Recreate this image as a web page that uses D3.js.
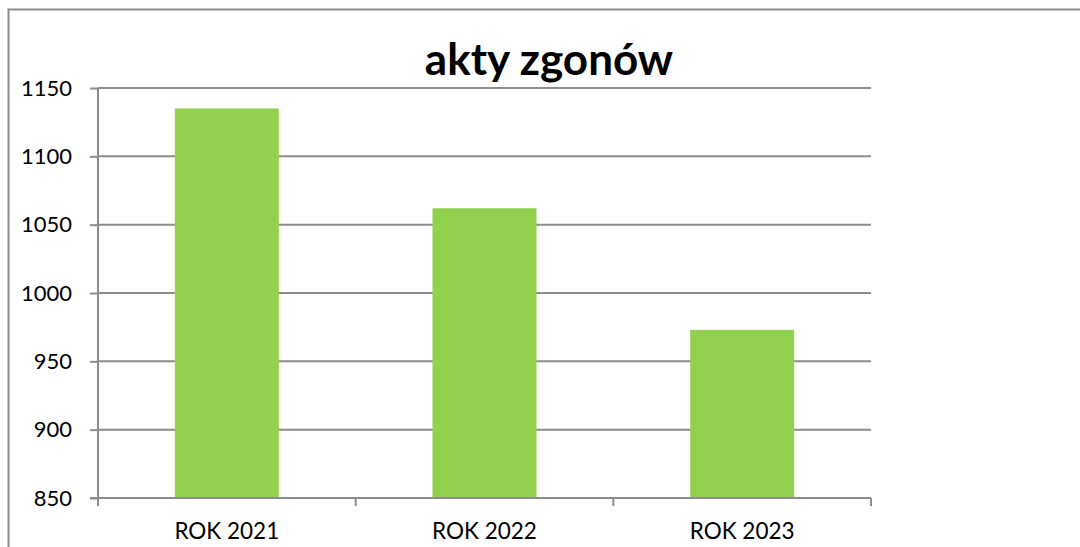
<!DOCTYPE html>
<html>
<head>
<meta charset="utf-8">
<script src="https://cdn.jsdelivr.net/npm/d3@7"></script>
<style>
  body { margin: 0; background: #fff; }
  svg { display: block; }
  svg text { font-family: Lato, "Open Sans", sans-serif; }
</style>
</head>
<body>
<svg id="chart" width="1080" height="547"></svg>
<script>
var categories = ["ROK 2021", "ROK 2022", "ROK 2023"];
var values = [1135, 1062, 973];
var yTicks = [850, 900, 950, 1000, 1050, 1100, 1150];
var title = "akty zgonów";

var svg = d3.select("#chart"),
    margin = {top: 88, right: 209, bottom: 49, left: 98},
    width = +svg.attr("width") - margin.left - margin.right,
    height = +svg.attr("height") - margin.top - margin.bottom;

// outer frame, runs off the right and bottom edges
svg.append("rect")
  .attr("x", 8.5).attr("y", 9.5)
  .attr("width", 1100).attr("height", 600)
  .attr("fill", "none")
  .attr("stroke", "#8c8c8c")
  .attr("stroke-width", 2);

var xb = d3.scaleBand().domain(categories).range([0, width]),
    y = d3.scaleLinear().domain([850, 1150]).range([height, 0]);
var barW = 104;

var g = svg.append("g")
  .attr("transform", "translate(" + margin.left + "," + margin.top + ")");

// gridlines
g.selectAll(".grid")
  .data(yTicks.slice(1))
  .enter().append("line")
  .attr("x1", 0).attr("x2", width)
  .attr("y1", function(d) { return y(d); })
  .attr("y2", function(d) { return y(d); })
  .attr("stroke", "#8c8c8c")
  .attr("stroke-width", 2);

// bars
g.selectAll(".bar")
  .data(values)
  .enter().append("rect")
  .attr("class", "bar")
  .attr("x", function(d, i) { return xb(categories[i]) + (xb.bandwidth() - barW) / 2; })
  .attr("y", function(d) { return y(d); })
  .attr("width", barW)
  .attr("height", function(d) { return height - y(d); })
  .attr("fill", "#92d050");

// y axis
var yAxis = g.append("g")
  .call(d3.axisLeft(y).tickValues(yTicks).tickFormat(d3.format("d")).tickSize(8).tickPadding(18));
yAxis.select(".domain").attr("stroke", "#8c8c8c").attr("stroke-width", 2).attr("d", "M0," + height + "V0");
yAxis.selectAll(".tick line").attr("stroke", "#8c8c8c").attr("stroke-width", 2);
yAxis.selectAll(".tick text").attr("font-size", 22).attr("fill", "#000");

// x axis: ticks at category boundaries
var xAxis = g.append("g").attr("transform", "translate(0," + height + ")");
xAxis.append("line")
  .attr("x1", -8).attr("x2", width)
  .attr("stroke", "#8c8c8c").attr("stroke-width", 2);
var bounds = categories.map(function(c) { return xb(c); }).concat([width]);
xAxis.selectAll(".xt")
  .data(bounds)
  .enter().append("line")
  .attr("x1", function(d) { return d; }).attr("x2", function(d) { return d; })
  .attr("y1", 0).attr("y2", 8)
  .attr("stroke", "#8c8c8c").attr("stroke-width", 2);
xAxis.selectAll(".xl")
  .data(categories)
  .enter().append("text")
  .attr("x", function(d) { return xb(d) + xb.bandwidth() / 2; })
  .attr("y", 41)
  .attr("text-anchor", "middle")
  .attr("font-size", 22.5)
  .attr("fill", "#000")
  .text(function(d) { return d; });

svg.append("text")
  .attr("x", 549).attr("y", 75)
  .attr("text-anchor", "middle")
  .attr("font-size", 44)
  .attr("font-weight", "bold")
  .attr("fill", "#000")
  .text(title);
</script>
</body>
</html>
